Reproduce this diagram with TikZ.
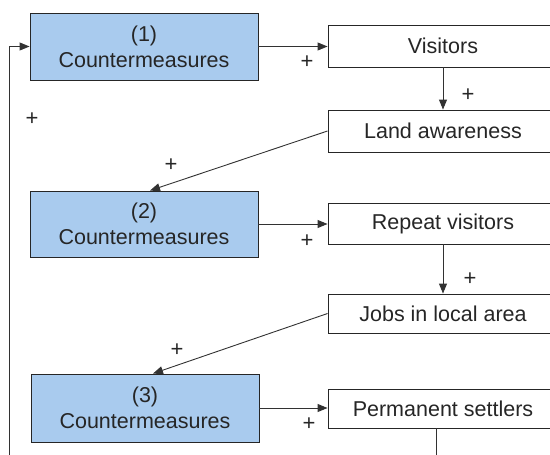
\documentclass[tikz,border=0pt]{standalone}
\usepackage{fontspec}
\setmainfont{Liberation Sans}
\usetikzlibrary{arrows.meta}
\usetikzlibrary{positioning}

\definecolor{cmblue}{RGB}{169,203,238}
\definecolor{linegray}{RGB}{50,50,50}

\tikzset{
  cmbox/.style={draw=black!85, fill=cmblue, line width=0.9pt, align=center,
    minimum width=228pt, inner sep=0pt,
    font=\fontsize{21.5}{26}\selectfont, text=black!85},
  varbox/.style={draw=black!85, fill=white, line width=0.9pt,
    minimum width=230pt, minimum height=41pt, inner sep=0pt,
    font=\fontsize{21.5}{24}\selectfont, text=black!85},
  link/.style={draw=linegray, line width=0.9pt,
    -{Triangle[length=10pt,width=8pt]}},
  plus/.style={font=\fontsize{22}{22}\selectfont, text=black!85, inner sep=0pt}
}

\begin{document}
\begin{tikzpicture}[x=1pt,y=-1pt]
      \useasboundingbox (0,0) rectangle (550,455);
      % Gegenmassnahmen (links)
      \node[cmbox, minimum height=67pt] (cm1) at (144,46.5) {(1)\\Countermeasures};
      \node[cmbox, minimum height=66pt] (cm2) at (144,224) {(2)\\Countermeasures};
      \node[cmbox, minimum height=68pt] (cm3) at (145,408) {(3)\\Countermeasures};
      % Groessen (rechts)
      \node[varbox, minimum height=42pt] (vis) at (443,46) {Visitors};
      \node[varbox, minimum height=42pt] (land) at (443,131) {Land awareness};
      \node[varbox] (rep) at (443,223.5) {Repeat visitors};
      \node[varbox, minimum height=39pt] (jobs) at (443,313.5) {Jobs in local area};
      \node[varbox, minimum height=39pt] (perm) at (443,408.5) {Permanent settlers};
      % Rueckkopplung unten (ausserhalb)
      \coordinate (loopr) at (436,480);
      \coordinate (loopl) at (9,480);

      \draw[link] (cm1.east) -- (cm1.east -| vis.west);
      \draw[link] (vis.south) -- (land.north);
      \draw[link] (land.west) -- ([xshift=6pt]cm2.north);
      \draw[link] (cm2.east) -- (cm2.east -| rep.west);
      \draw[link] (rep.south) -- (jobs.north);
      \draw[link] (jobs.west) -- ([xshift=8pt]cm3.north);
      \draw[link] (cm3.east) -- (cm3.east -| perm.west);
      \draw[link] ([xshift=-7pt]perm.south) -- (loopr) -- (loopl) |- (cm1.west);

      \foreach \px/\py/\nm in {32/119/a,307/62/b,468/95/c,171/165/d,307/241/e,470/279/f,177/350/g,309/424/h}
      \node[plus] (plus\nm) at (\px,\py) {+};
\end{tikzpicture}
\end{document}
